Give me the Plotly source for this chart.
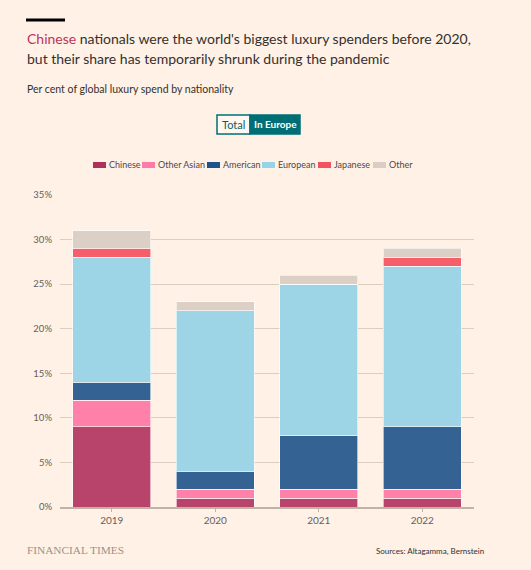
import plotly.graph_objects as go

years = ["2019", "2020", "2021", "2022"]
chinese = [9, 1, 1, 1]
other_asian = [3, 1, 1, 1]
american = [2, 2, 6, 7]
european = [14, 18, 17, 18]
japanese = [1, 0, 0, 1]
other = [2, 1, 1, 1]

series = [
    ("Chinese", chinese, "#b9446b", "#b0305c"),
    ("Other Asian", other_asian, "#ff80a9", "#ff7aa6"),
    ("American", american, "#346393", "#1f5289"),
    ("European", european, "#9dd4e6", "#96d3e8"),
    ("Japanese", japanese, "#f65e6a", "#f5505e"),
    ("Other", other, "#dccfc5", "#dbcdc3"),
]
# left edge of each legend swatch, in pixels
legend_x = [93, 142, 207, 262, 318, 373]

W, H = 531, 570
L, R, T, B = 60, 57, 195, 63
pw, ph = W - L - R, H - T - B


def px_x(x):
    return (x - L) / pw


def px_y(y):
    return (H - B - y) / ph


fig = go.Figure()
for name, vals, col, _ in series:
    fig.add_trace(go.Bar(
        x=years, y=vals, name=name,
        marker=dict(color=col, line=dict(color="rgba(255,255,255,0.6)", width=1)),
    ))

bg = "#fff1e5"
fig.update_layout(
    width=W, height=H,
    margin=dict(l=L, r=R, t=T, b=B, autoexpand=False),
    paper_bgcolor=bg, plot_bgcolor=bg,
    barmode="stack", bargap=0.245,
    font=dict(family="Lato", color="#66605c"),
    showlegend=False,
    xaxis=dict(showgrid=False, showline=True, linecolor="#bfb3aa", linewidth=2,
               ticks="outside", ticklen=3, tickcolor="#bfb3aa", automargin=False,
               tickfont=dict(size=10, color="#66605c")),
    yaxis=dict(range=[0, 35], dtick=5, ticksuffix="%", showgrid=True, automargin=False,
               gridcolor="#dccdc1", gridwidth=1, zeroline=False,
               tickfont=dict(size=9.5, color="#66605c"), ticklabelstandoff=7),
)

# legend drawn by hand to keep the compact swatches
for (name, _, _, sw), lx in zip(series, legend_x):
    fig.add_shape(type="rect", xref="paper", yref="paper",
                  x0=px_x(lx), x1=px_x(lx + 13), y0=px_y(162), y1=px_y(168),
                  fillcolor=sw, line=dict(width=0))
    fig.add_annotation(xref="paper", yref="paper", x=px_x(lx + 14), y=px_y(165),
                       xanchor="left", yanchor="middle", showarrow=False, text=name,
                       font=dict(size=9, color="#4d4845"))

# top black rule
fig.add_shape(type="line", xref="paper", yref="paper",
              x0=px_x(26), x1=px_x(65), y0=px_y(20), y1=px_y(20),
              line=dict(color="#000000", width=3))

title_lines = [
    "<span style='color:#c0325e'>Chinese</span> nationals were the world's biggest luxury spenders before 2020,",
    "but their share has temporarily shrunk during the pandemic",
]
for line, ty in zip(title_lines, [38, 58]):
    fig.add_annotation(
        xref="paper", yref="paper", x=px_x(25), y=px_y(ty), xanchor="left", yanchor="middle",
        showarrow=False, text=line, font=dict(family="Lato", size=14, color="#33302e"),
    )
fig.add_annotation(
    xref="paper", yref="paper", x=px_x(25), y=px_y(89), xanchor="left", yanchor="middle",
    showarrow=False, text="Per cent of global luxury spend by nationality",
    font=dict(family="Lato", size=10.5, color="#33302e"),
)

# toggle buttons
teal = "#006f75"
fig.add_shape(type="rect", xref="paper", yref="paper",
              x0=px_x(217), x1=px_x(250), y0=px_y(115), y1=px_y(134),
              fillcolor="#fff8f2", line=dict(color=teal, width=1.5))
fig.add_shape(type="rect", xref="paper", yref="paper",
              x0=px_x(250), x1=px_x(300), y0=px_y(115), y1=px_y(134),
              fillcolor=teal, line=dict(color=teal, width=1.5))
fig.add_annotation(xref="paper", yref="paper", x=px_x(233.5), y=px_y(124.5),
                   yanchor="middle", showarrow=False, text="Total",
                   font=dict(size=11, color="#0d5c61"))
fig.add_annotation(xref="paper", yref="paper", x=px_x(275), y=px_y(124.5),
                   yanchor="middle", showarrow=False, text="<b>In Europe</b>",
                   font=dict(size=10, color="#ffffff"))

# footer
fig.add_annotation(xref="paper", yref="paper", x=px_x(25), y=px_y(550), xanchor="left",
                   yanchor="middle", showarrow=False, text="FINANCIAL TIMES",
                   font=dict(family="Liberation Serif", size=11.3, color="#9c918a"))
fig.add_annotation(xref="paper", yref="paper", x=px_x(486), y=px_y(551), xanchor="right",
                   yanchor="middle", showarrow=False, text="Sources: Altagamma, Bernstein",
                   font=dict(size=8, color="#33302e"))

fig.write_html(
    "out.html",
    config={"displayModeBar": False},
    post_script="document.body.style.margin='0';document.body.style.background='#fff1e5';",
)
